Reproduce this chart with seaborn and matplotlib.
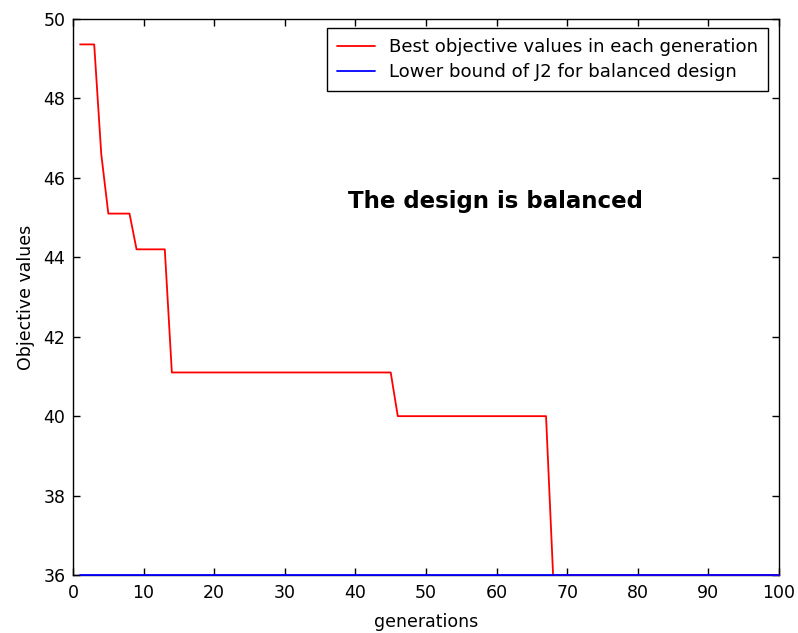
import matplotlib
matplotlib.use("Agg")
import matplotlib.pyplot as plt
import seaborn as sns
import pandas as pd

# Best objective value reached by the GA at each generation where it changes
best_gen = [1, 3, 4, 5, 8, 9, 13, 14, 45, 46, 67, 68, 100]
best_val = [49.36, 49.36, 46.6, 45.1, 45.1, 44.2, 44.2, 41.1, 41.1, 40.0, 40.0, 36.0, 36.0]

# Theoretical lower bound of J2 for a balanced design
bound_gen = [1, 100]
bound_val = [36.0, 36.0]

x_ticks = list(range(0, 101, 10))
y_ticks = list(range(36, 51, 2))

label_best = "Best objective values in each generation"
label_bound = "Lower bound of J2 for balanced design"
annotation = "The design is balanced"

sns.set_style("ticks")
plt.rcParams["font.family"] = ["DejaVu Sans"]
plt.rcParams["text.color"] = "black"
plt.rcParams["axes.labelcolor"] = "black"

df_best = pd.DataFrame({"gen": best_gen, "val": best_val})
df_bound = pd.DataFrame({"gen": bound_gen, "val": bound_val})

fig = plt.figure(figsize=(7.98, 6.33), dpi=100)
ax = fig.add_axes([0.0915, 0.0916, 0.8847, 0.8784])

sns.lineplot(data=df_best, x="gen", y="val", ax=ax, color="#ff0000",
             linewidth=1.3, label=label_best, clip_on=False, zorder=3)
sns.lineplot(data=df_bound, x="gen", y="val", ax=ax, color="#0000ff",
             linewidth=1.3, label=label_bound, clip_on=False, zorder=4)

ax.set_xlim(0, 100)
ax.set_ylim(36, 50)
ax.set_xticks(x_ticks)
ax.set_yticks(y_ticks)
ax.tick_params(direction="in", length=5, width=1, top=True, right=True,
               labelsize=12.5, colors="black")
ax.tick_params(axis="x", pad=6.5)
ax.tick_params(axis="y", pad=5.5)
for s in ax.spines.values():
    s.set_visible(True)
    s.set_color("black")
    s.set_linewidth(1)

ax.set_xlabel("generations", fontsize=12.5, labelpad=8)
ax.set_ylabel("Objective values", fontsize=12.5, labelpad=6)

ax.text(59.8, 45.40, annotation, fontsize=16.5, fontweight="bold",
        ha="center", va="center")

leg = ax.legend(loc="upper right", bbox_to_anchor=(0.9844, 0.9838),
                fontsize=13.1, frameon=True, fancybox=False, framealpha=1,
                edgecolor="black", handlelength=2.1, handletextpad=0.75,
                borderpad=0.55, labelspacing=0.4, borderaxespad=0)
leg.get_frame().set_linewidth(1)

fig.savefig("out.png", dpi=100)
